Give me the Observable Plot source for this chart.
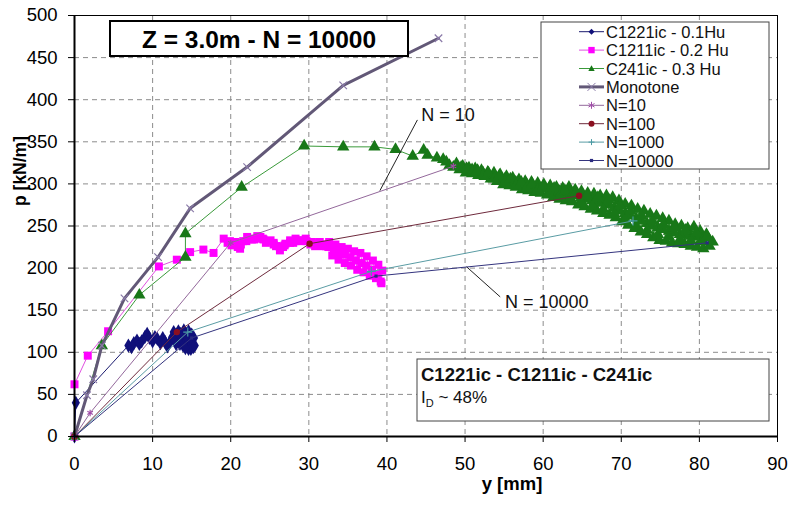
<!DOCTYPE html>
<html><head><meta charset="utf-8">
<script src="https://cdn.jsdelivr.net/npm/d3@7"></script>
<script src="https://cdn.jsdelivr.net/npm/@observablehq/plot@0.6"></script>
<style>
html,body{margin:0;padding:0;background:#fff;}
#chart svg{display:block;}
</style></head><body><div id="chart"></div>
<script>
// ---- data: [y (mm), p (kN/m)] ----
const xTicks = [0, 10, 20, 30, 40, 50, 60, 70, 80, 90];
const yTicks = [0, 50, 100, 150, 200, 250, 300, 350, 400, 450, 500];

const c1221ic = [[0,0],[0.17,40],[6.9,108],[7.3,106],[7.6,111],[8.0,114],[8.3,110],[8.6,113],[9.0,118],[9.3,122],[9.6,117],[10.0,113],[10.3,118],[10.6,116],[11.0,111],[11.3,117],[11.6,112],[11.9,107],[12.2,112],[12.5,118],[12.7,124],[13.0,121],[13.3,125],[13.6,122],[14.0,126],[14.3,122],[14.6,125],[15.0,121],[15.3,117],[15.1,112],[15.4,108],[14.9,104],[14.5,108],[14.1,112],[13.7,117],[14.4,116],[14.8,110],[15.2,106],[14.6,104],[13.9,108],[13.3,116],[12.8,114],[13.5,110],[14.2,105],[13.0,110]];

const c1211ic = [[0,0],[0,62],[1.7,96],[4.3,125],[10.8,202],[13.1,210],[14.8,219],[16.5,222],[17.8,218],[19.1,235],[19.6,230],[20.1,227],[20.4,229],[20.9,225],[21.2,223],[21.6,232],[22.1,237],[22.6,235],[23.0,234],[23.4,238],[23.8,237],[24.2,234],[24.5,230],[25.1,233],[25.5,228],[25.8,226],[26.3,221],[26.7,225],[27.0,229],[27.6,233],[28.0,230],[28.3,235],[28.7,233],[29.0,232],[29.6,235],[30.2,228],[30.8,226],[31.4,231],[31.8,226],[32.2,226],[32.6,231],[33.0,215],[33.4,228],[33.8,210],[34.2,225],[34.6,206],[35.0,223],[35.4,203],[35.8,220],[36.2,198],[36.6,218],[37.0,195],[37.4,214],[37.8,191],[38.2,209],[38.6,188],[38.9,204],[39.2,184],[39.4,197],[39.3,182],[38.8,192],[38.1,198],[37.4,203],[36.7,206],[36.0,209],[35.3,213],[34.6,216],[33.9,219],[33.2,222],[32.5,225],[31.8,228],[31.1,229],[30.4,231],[29.7,232],[29.0,233],[28.3,232],[27.6,230],[26.9,227],[26.2,226],[25.5,230],[24.8,232],[24.1,235],[23.4,235],[22.7,234],[22.0,232],[21.3,228],[20.6,231],[19.9,232]];

const c241ic = [[0,0],[3.5,108],[8.3,168],[14.2,213],[14.2,241],[21.4,296],[29.4,345],[34.4,344],[38.4,344],[41.1,341],[43.3,333],[44.7,340],[45.2,334],[46.4,331],[47.2,329],[47.6,326],[48.0,322],[48.5,320],[48.9,324],[49.3,317],[49.7,321],[50.1,313],[50.5,319],[50.9,312],[51.3,318],[51.7,310],[52.1,316],[52.5,309],[52.9,314],[53.3,306],[53.7,313],[54.1,303],[54.5,311],[54.9,299],[55.3,309],[55.7,298],[56.1,307],[56.5,296],[56.9,305],[57.3,293],[57.7,303],[58.1,292],[58.5,302],[58.9,290],[59.3,301],[59.7,289],[60.1,299],[60.5,287],[60.9,298],[61.3,284],[61.7,296],[62.1,282],[62.5,295],[62.9,280],[63.3,296],[63.7,279],[64.1,293],[64.5,275],[64.9,291],[65.3,273],[65.7,289],[66.1,270],[66.5,288],[66.9,268],[67.3,286],[67.7,265],[68.1,286],[68.5,263],[68.9,284],[69.3,260],[69.7,280],[70.1,255],[70.5,276],[70.9,251],[71.3,274],[71.7,247],[72.1,270],[72.5,243],[72.9,268],[73.3,240],[73.7,264],[74.1,236],[74.5,262],[74.9,233],[75.3,259],[75.7,232],[76.1,256],[76.5,230],[76.9,252],[77.3,229],[77.7,250],[78.1,228],[78.5,247],[78.9,226],[79.3,249],[79.7,225],[80.1,244],[80.5,223],[80.9,240],[81.3,226],[81.7,231],
  [81.0,236],[80.3,234],[79.6,237],[78.9,238],[78.2,239],[77.5,240],[76.8,242],[76.1,244],[75.4,246],[74.7,248],[74.0,250],[73.3,253],[72.6,256],[71.9,259],[71.2,262],[70.5,265],[69.8,268],[69.1,272],[68.4,275],[67.7,277],[67.0,278],[66.3,280],[65.6,282],[64.9,284],[64.2,286],[63.5,288],[62.8,289],[62.1,291],[61.4,292],[60.7,294],[60.0,295],[59.3,296],[58.6,297],[57.9,299],[57.2,300],[56.5,302],[55.8,304],[55.1,306],[54.4,308],[53.7,310],[53.0,312],[52.3,313],[51.6,315],[50.9,317],[50.2,318],[49.5,320],
  [50.2,318],[50.9,314],[51.6,316],[52.3,310],[53.0,313],[53.7,306],[54.4,310],[55.1,302],[55.8,306],[56.5,298],[57.2,302],[57.9,295],[58.6,300],[59.3,293],[60.0,298],[60.7,289],[61.4,295],[62.1,286],[62.8,292],[63.5,283],[64.2,290],[64.9,278],[65.6,286],[66.3,274],[67.0,284],[67.7,270],[68.4,281],[69.1,265],[69.8,274],[70.5,257],[71.2,268],[71.9,250],[72.6,262],[73.3,245],[74.0,256],[74.7,240],[75.4,252],[76.1,237],[76.8,248],[77.5,234],[78.2,245],[78.9,233],[79.6,242],[80.3,231],[81.0,238]];

const monotone = [[0,0],[1.6,49],[2.4,68],[3.5,108],[6.4,164],[10.7,213],[14.8,271],[22.1,320],[34.4,417],[46.6,473]];

const n10 = [[0,0],[2.0,28],[20.0,230],[48.5,321]];
const n100 = [[0,0],[13.1,124],[30.1,229],[64.6,286]];
const n1000 = [[0,0],[14.5,124],[38.0,196],[71.5,256]];
const n10000 = [[0,0],[15.0,117],[38.6,190.5],[81.0,230]];

const seriesNames = ["C1221ic - 0.1Hu","C1211ic - 0.2 Hu","C241ic - 0.3 Hu","Monotone","N=10","N=100","N=1000","N=10000"];
const titleText = "Z = 3.0m - N = 10000";
const noteLine1 = "C1221ic - C1211ic - C241ic";
const noteLine2 = ["I", "D", " ~ 48%"];
const annotLabels = [{t:"N = 10", y:44.4, p:381.5}, {t:"N = 10000", y:55.1, p:160}];
const annotArrows = [{y1:43.9, p1:376, y2:39.1, p2:292}, {y1:54.5, p1:165.8, y2:50.2, p2:201.5}];

// ---- styles per series ----
const styles = [
  {data:c1221ic, line:"#1a1a6e", lw:1, sym:"diamond", fill:"#10107a", r:4.3},
  {data:c1211ic, line:"#e050e0", lw:1, sym:"square", fill:"#ff00ff", r:4.5},
  {data:c241ic, line:"#3a9a3a", lw:1, sym:"triangle", fill:"#187818", r:4.6},
  {data:monotone, line:"#625877", lw:3, sym:"times", stroke:"#8a7aa8", r:3.5},
  {data:n10, line:"#93689b", lw:1, sym:"asterisk", stroke:"#a04ca8", r:3},
  {data:n100, line:"#6e2a3c", lw:1, sym:"circle", fill:"#8b1020", r:3.2},
  {data:n1000, line:"#5a9ca4", lw:1, sym:"plus", stroke:"#4a9aa4", r:3},
  {data:n10000, line:"#34347e", lw:1, sym:"square", fill:"#2a2a80", r:1.8}
];

const toRows = arr => arr.map(([y, p]) => ({y, p}));

const seriesMarks = styles.flatMap(s => {
  const rows = toRows(s.data);
  return [
    Plot.line(rows, {x:"y", y:"p", stroke:s.line, strokeWidth:s.lw, curve:"linear"}),
    Plot.dot(rows, {x:"y", y:"p", symbol:s.sym, r:s.r,
      fill: s.fill || "none", stroke: s.stroke || "none", strokeWidth: s.stroke ? 1.2 : 0})
  ];
});

const ff = "'Liberation Sans', Arial, sans-serif";

const plot = Plot.plot({
  width: 788, height: 508,
  marginLeft: 74, marginRight: 11, marginTop: 15, marginBottom: 72,
  style: {fontFamily: ff, fontSize: "18px", color: "#000", background: "#fff"},
  x: {domain: [0, 90]},
  y: {domain: [0, 500]},
  marks: [
    Plot.gridX(xTicks, {stroke: "#8c8c8c", strokeOpacity: 1, strokeDasharray: "5,4"}),
    Plot.gridY(yTicks, {stroke: "#8c8c8c", strokeOpacity: 1, strokeDasharray: "5,4"}),
    ...seriesMarks,
    Plot.link(annotArrows, {x1:"y1", y1:"p1", x2:"y2", y2:"p2", stroke:"#222", strokeWidth:1, ariaLabel:"annot-arrow"}),
    Plot.text(annotLabels, {x:"y", y:"p", text:"t", textAnchor:"start", fontSize:18, fill:"#111"}),
    Plot.frame({stroke: "#000", strokeWidth: 1}),
    Plot.ruleX([0], {stroke:"#000", strokeWidth:2}),
    Plot.ruleY([0], {stroke:"#000", strokeWidth:2}),
    Plot.axisX(xTicks, {tickSize: 6, tickPadding: 14, fontSize: 18.5, label: null}),
    Plot.axisY(yTicks, {tickSize: 6, tickPadding: 11, fontSize: 18.5, label: null}),
    Plot.text(["y [mm]"], {text: d => d, frameAnchor: "bottom", dx: 86, dy: 53, fontWeight: "bold", fontSize: 18.5}),
    Plot.text(["p [kN/m]"], {text: d => d, frameAnchor: "left", dx: -54, dy: -20, rotate: -90, fontWeight: "bold", fontSize: 17.5})
  ]
});

document.getElementById("chart").appendChild(plot);

// ---- overlays: arrow heads, title box, legend, note box ----
const svg = d3.select(plot);
const defs = svg.append("defs");
defs.append("marker").attr("id", "ah").attr("viewBox", "0 0 10 10")
  .attr("refX", 9).attr("refY", 5).attr("markerWidth", 8).attr("markerHeight", 8)
  .attr("orient", "auto")
  .append("path").attr("d", "M0,1.5L10,5L0,8.5Z").attr("fill", "#111");
svg.selectAll('g[aria-label="annot-arrow"] path').attr("marker-end", "url(#ah)");

// title box
const tg = svg.append("g");
tg.append("rect").attr("x", 110).attr("y", 21).attr("width", 298).attr("height", 35)
  .attr("fill", "#fff").attr("stroke", "#000").attr("stroke-width", 2);
tg.append("text").attr("x", 259).attr("y", 39).attr("text-anchor", "middle")
  .attr("dominant-baseline", "central").attr("font-family", ff)
  .attr("font-weight", "bold").attr("font-size", 24.5).text(titleText);

// legend
const lg = svg.append("g").attr("font-family", ff).attr("text-anchor", "start");
lg.append("rect").attr("x", 541).attr("y", 22).attr("width", 228).attr("height", 147)
  .attr("fill", "#fff").attr("stroke", "#444").attr("stroke-width", 1);
seriesNames.forEach((name, i) => {
  const s = styles[i];
  const cy = 31.7 + i * 18.4;
  lg.append("line").attr("x1", 579).attr("x2", 604).attr("y1", cy).attr("y2", cy)
    .attr("stroke", s.line).attr("stroke-width", s.lw);
  const cx = 591.5;
  const g = lg.append("g").attr("transform", `translate(${cx},${cy})`);
  const col = s.fill || s.stroke;
  if (s.sym === "diamond") g.append("path").attr("d", "M0,-3L3,0L0,3L-3,0Z").attr("fill", col);
  else if (s.sym === "square") { const h = s.r > 2 ? 3.2 : 1.6; g.append("rect").attr("x", -h).attr("y", -h).attr("width", 2*h).attr("height", 2*h).attr("fill", col); }
  else if (s.sym === "triangle") g.append("path").attr("d", "M0,-3.3L3.2,2.4L-3.2,2.4Z").attr("fill", col);
  else if (s.sym === "circle") g.append("circle").attr("r", 3).attr("fill", col);
  else if (s.sym === "times") g.append("path").attr("d", "M-4,-4L4,4M-4,4L4,-4").attr("stroke", col).attr("stroke-width", 1);
  else if (s.sym === "asterisk") g.append("path").attr("d", "M0,-3.5L0,3.5M-3,-1.8L3,1.8M-3,1.8L3,-1.8").attr("stroke", col).attr("stroke-width", 1);
  else if (s.sym === "plus") g.append("path").attr("d", "M0,-3L0,3M-3,0L3,0").attr("stroke", col).attr("stroke-width", 1);
  lg.append("text").attr("x", 606).attr("y", cy).attr("dominant-baseline", "central")
    .attr("font-size", 16.5).attr("fill", "#111").text(name);
});

// note box
const ng = svg.append("g").attr("font-family", ff).attr("fill", "#111").attr("text-anchor", "start");
ng.append("rect").attr("x", 417).attr("y", 359).attr("width", 352).attr("height", 62)
  .attr("fill", "#fff").attr("stroke", "#444").attr("stroke-width", 1);
ng.append("text").attr("x", 421).attr("y", 381).attr("font-weight", "bold").attr("font-size", 18.5).text(noteLine1);
const t2 = ng.append("text").attr("x", 421).attr("y", 403).attr("font-size", 17);
t2.append("tspan").text(noteLine2[0]);
t2.append("tspan").attr("font-size", 11).attr("dy", 4).text(noteLine2[1]);
t2.append("tspan").attr("dy", -4).text(noteLine2[2]);
</script></body></html>
